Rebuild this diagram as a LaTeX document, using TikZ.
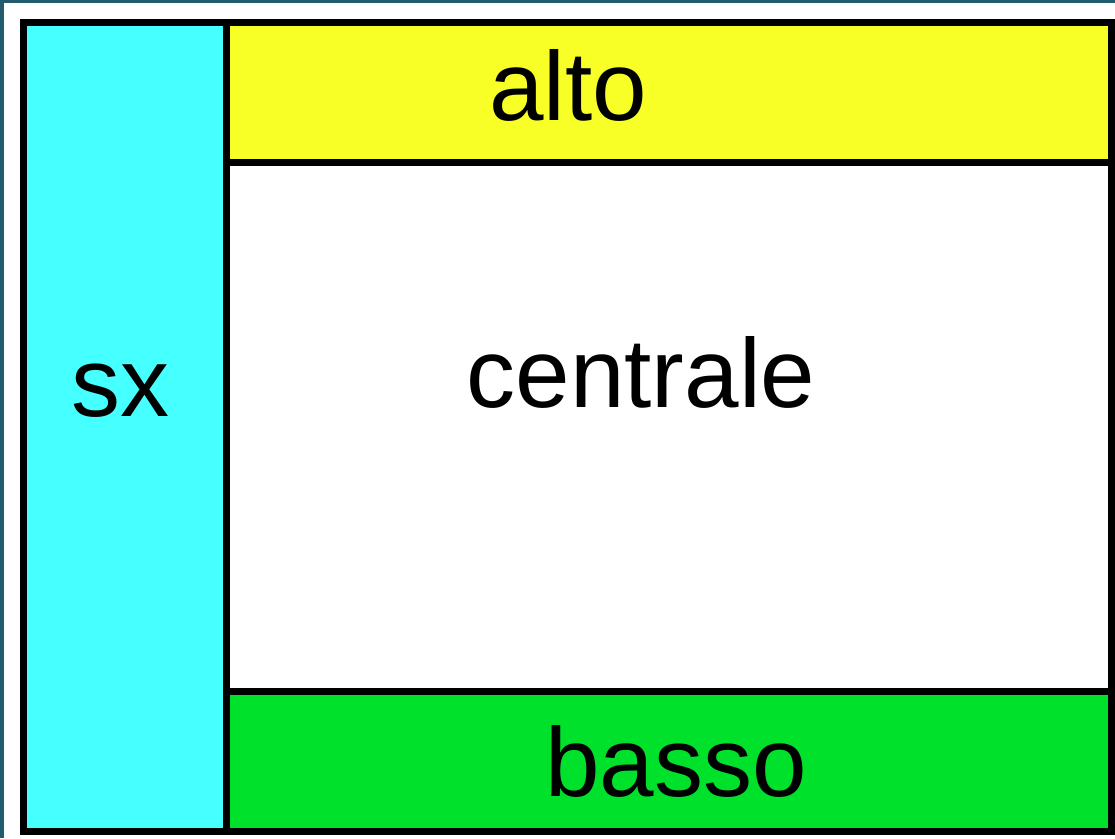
\documentclass[tikz,border=0pt]{standalone}
\usepackage{fontspec}
\setmainfont{Liberation Sans}

\definecolor{frameTeal}{HTML}{225B6B}
\definecolor{sxBg}{HTML}{46FFFF}
\definecolor{altoBg}{HTML}{F8FF26}
\definecolor{bassoBg}{HTML}{00E12B}

\begin{document}
\begin{tikzpicture}[x=1pt, y=-1pt, every node/.style={font=\fontsize{98}{100}\selectfont, anchor=base, inner sep=0pt}]
\useasboundingbox (0,0) rectangle (1115,838);
\fill[frameTeal] (0,0) rectangle (1115,838);
\fill[white] (3.5,3) rectangle (1115,838);

% sx
\filldraw[fill=sxBg,draw=black,line width=7pt] (23.5,22.5) rectangle (226,831.5);
\node (sx) at (120,416) {sx};

% alto
\filldraw[fill=altoBg,draw=black,line width=7pt] (226,22.5) rectangle (1111.5,162.5);
\node (alto) at (568,120) {alto};

% centrale
\filldraw[fill=white,draw=black,line width=7pt] (226,162.5) rectangle (1111.5,691);
\node (centrale) at (641,407) {centrale};

% basso
\filldraw[fill=bassoBg,draw=black,line width=7pt] (226,691) rectangle (1111.5,831.5);
\node (basso) at (676,796) {basso};
\end{tikzpicture}
\end{document}
